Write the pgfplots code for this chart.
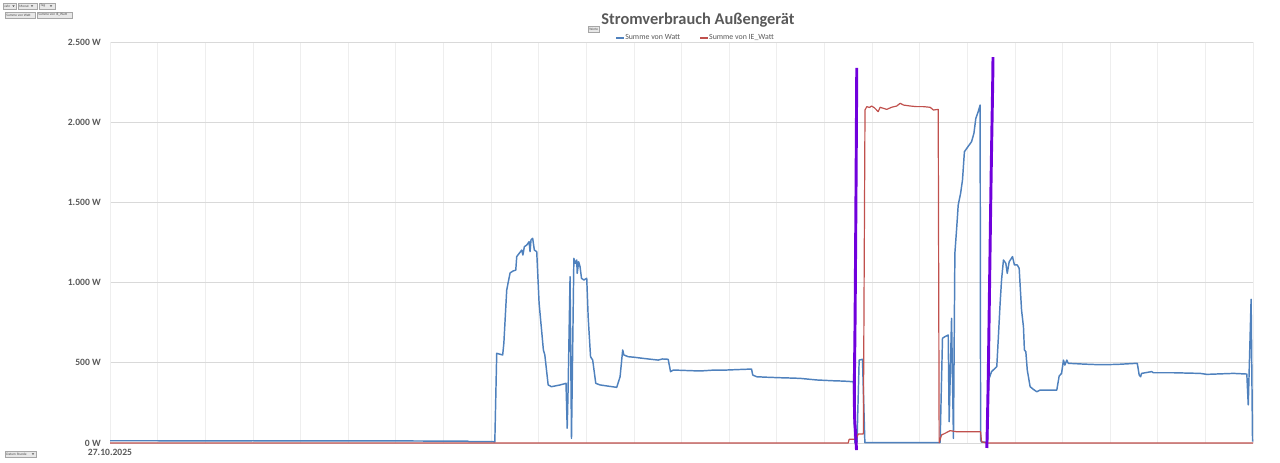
\documentclass[border=0pt]{standalone}
\usepackage{pgfplots}
\usepackage{pgfplotstable}
\pgfplotsset{compat=1.18}
\usepackage{fontspec}
\setmainfont{Carlito}
\definecolor{cblue}{HTML}{4F81BD}
\definecolor{cred}{HTML}{C0504D}
\definecolor{cpurple}{RGB}{112,0,220}
\definecolor{ctext}{HTML}{595959}
\definecolor{cgrid}{HTML}{D9D9D9}
\definecolor{cvgrid}{HTML}{EEEEEE}

\pgfplotstableread{
h w
0 14
1 14
2 13
3 14
4 13
5 13
6 13
7 12
7.5 12
7.55 8
8.05 8
8.08 6
8.12 559
8.245 549
8.27 623
8.33 954
8.40 1060
8.46 1072
8.52 1078
8.54 1162
8.645 1203
8.67 1172
8.70 1224
8.75 1234
8.80 1255
8.82 1193
8.84 1266
8.875 1276
8.91 1203
8.96 1193
9.01 871
9.10 580
9.13 549
9.20 362
9.27 351
9.35 356
9.45 362
9.575 372
9.60 92
9.62 351
9.66 1037
9.69 29
9.74 1151
9.77 1120
9.80 1141
9.81 1058
9.84 1130
9.87 1099
9.90 1027
9.95 1016
10.01 1027
10.04 787
10.09 538
10.135 517
10.20 372
10.29 362
10.45 355
10.64 347
10.71 413
10.765 580
10.79 549
10.88 538
11.0 535
11.13 530
11.3 524
11.51 517
11.6 524
11.72 522
11.77 445
11.83 455
12.1 452
12.39 449
12.7 455
12.95 455
13.2 458
13.47 461
13.495 424
13.54 418
13.58 413
13.8 410
14.07 407
14.3 405
14.49 403
14.84 393
15.19 388
15.4 386
15.61 382
15.64 2
15.685 5
15.73 517
15.80 522
15.85 2
17.43 3
17.48 653
17.53 663
17.60 673
17.62 133
17.67 777
17.71 29
17.74 1183
17.78 1349
17.81 1484
17.86 1556
17.90 1640
17.94 1816
17.99 1837
18.04 1858
18.09 1878
18.14 1931
18.18 2024
18.23 2066
18.27 2107
18.28 19
18.30 5
18.425 5
18.445 362
18.46 403
18.51 445
18.62 476
18.65 642
18.69 871
18.72 1016
18.76 1141
18.81 1120
18.84 1058
18.88 1130
18.95 1162
18.99 1110
19.05 1110
19.09 1089
19.14 829
19.18 725
19.20 580
19.23 569
19.26 455
19.32 351
19.39 334
19.46 320
19.53 330
19.88 330
19.93 418
19.98 434
20.02 517
20.05 486
20.09 517
20.12 497
20.44 492
20.79 488
21.14 490
21.57 497
21.61 424
21.64 413
21.66 434
21.87 445
21.91 438
22.33 438
22.89 434
23.03 428
23.59 434
23.87 430
23.90 237
23.96 896
23.99 8
}\bluedata

\pgfplotstableread{
h w
0 0
15.50 0
15.52 23
15.666 23
15.71 56
15.818 56
15.853 2076
15.89 2097
15.95 2092
15.99 2101
16.05 2090
16.13 2066
16.17 2093
16.31 2080
16.41 2093
16.52 2101
16.59 2118
16.66 2107
16.80 2101
16.94 2097
17.08 2097
17.22 2093
17.29 2076
17.39 2080
17.41 2
17.46 50
17.53 60
17.64 77
17.78 70
18.06 70
18.28 70
18.30 8
18.41 0
24 0
}\reddata

\pgfplotstableread{
h w
15.68 2338
15.665 1621
15.645 787
15.63 374
15.635 164
15.655 60
15.675 -44
}\purpleA

\pgfplotstableread{
h w
18.54 2406
18.535 2263
18.50 1640
18.46 808
18.44 393
18.42 81
18.41 -31
}\purpleB

\newcommand{\btn}[5]{%
  \draw[fill=black!9,draw=black!35,line width=0.3pt] (#1,#2) rectangle (#3,#4);
  \node[font=\fontsize{2.6}{3}\selectfont, text=black!70, inner sep=0pt, anchor=west] at (#1+1.2,{(#2+#4)/2}) {#5};}
\newcommand{\arr}[2]{\fill[black!70] (#1-1.2,#2-0.6) -- (#1+1.2,#2-0.6) -- (#1,#2+0.8) -- cycle;}

\begin{document}
\begin{tikzpicture}
\useasboundingbox (0,0) rectangle (960pt,346.5pt);
\begin{axis}[
  at={(82.5pt,14.25pt)}, anchor=south west,
  scale only axis, width=857.25pt, height=300.75pt,
  xmin=0, xmax=24, ymin=0, ymax=2500,
  clip=false,
  axis line style={draw=none},
  xtick={1,...,24}, xticklabels={},
  extra x ticks={0}, extra x tick labels={27.10.2025},
  extra x tick style={grid=major, major grid style={cgrid, line width=0.5pt}},
  ytick={0,500,...,2500},
  yticklabels={0 W,500 W,1.000 W,1.500 W,2.000 W,2.500 W},
  major tick length=0pt,
  xmajorgrids, ymajorgrids,
  major x grid style={cvgrid, line width=0.5pt},
  major y grid style={cgrid, line width=0.6pt},
  tick label style={font=\fontsize{7.2}{8}\selectfont\bfseries, text=ctext},
  yticklabel style={inner sep=0pt, xshift=-6.75pt},
  xticklabel style={inner sep=0pt, yshift=-4.5pt},
  legend style={at={(0.512,1.01)}, anchor=center, draw=none, fill=none,
    font=\fontsize{5.9}{7}\selectfont, text=ctext, inner sep=0pt,
    nodes={inner sep=0.6pt},
    /tikz/every even column/.append style={column sep=14pt}},
  legend columns=2,
  legend image code/.code={\draw[#1, line width=1pt] (0pt,0pt) -- (5.5pt,0pt);},
  line join=round,
]
\addplot[cblue, line width=1.1pt] table[x=h,y=w] {\bluedata};
\addlegendentry{Summe von Watt}
\addplot[cred, line width=0.9pt] table[x=h,y=w] {\reddata};
\addlegendentry{Summe von IE\_Watt}
\addplot[cpurple, line width=2.2pt, forget plot, smooth] table[x=h,y=w] {\purpleA};
\addplot[cpurple, line width=2.2pt, forget plot, smooth] table[x=h,y=w] {\purpleB};
\end{axis}
\node[font=\fontsize{12.3}{14}\selectfont\bfseries, text=ctext] at (523.5pt,331.5pt) {Stromverbrauch Außengerät};
\begin{scope}[x=0.75pt,y=-0.75pt,yshift=346.5pt]
  \btn{3}{3}{16}{9}{Jahr}\arr{13.5}{6}
  \btn{18}{3}{37}{9}{Monat}\arr{32}{6}
  \btn{39}{3}{55}{9}{Tag}\arr{51}{6}
  \btn{5}{12}{35}{18}{Summe von Watt}
  \btn{37}{12}{72}{18}{Summe von IE\_Watt}
  \btn{5}{451}{36}{457}{Datum Stunde}\arr{33}{454}
  \btn{588}{26}{599}{32}{Werte}
\end{scope}
\end{tikzpicture}
\end{document}
